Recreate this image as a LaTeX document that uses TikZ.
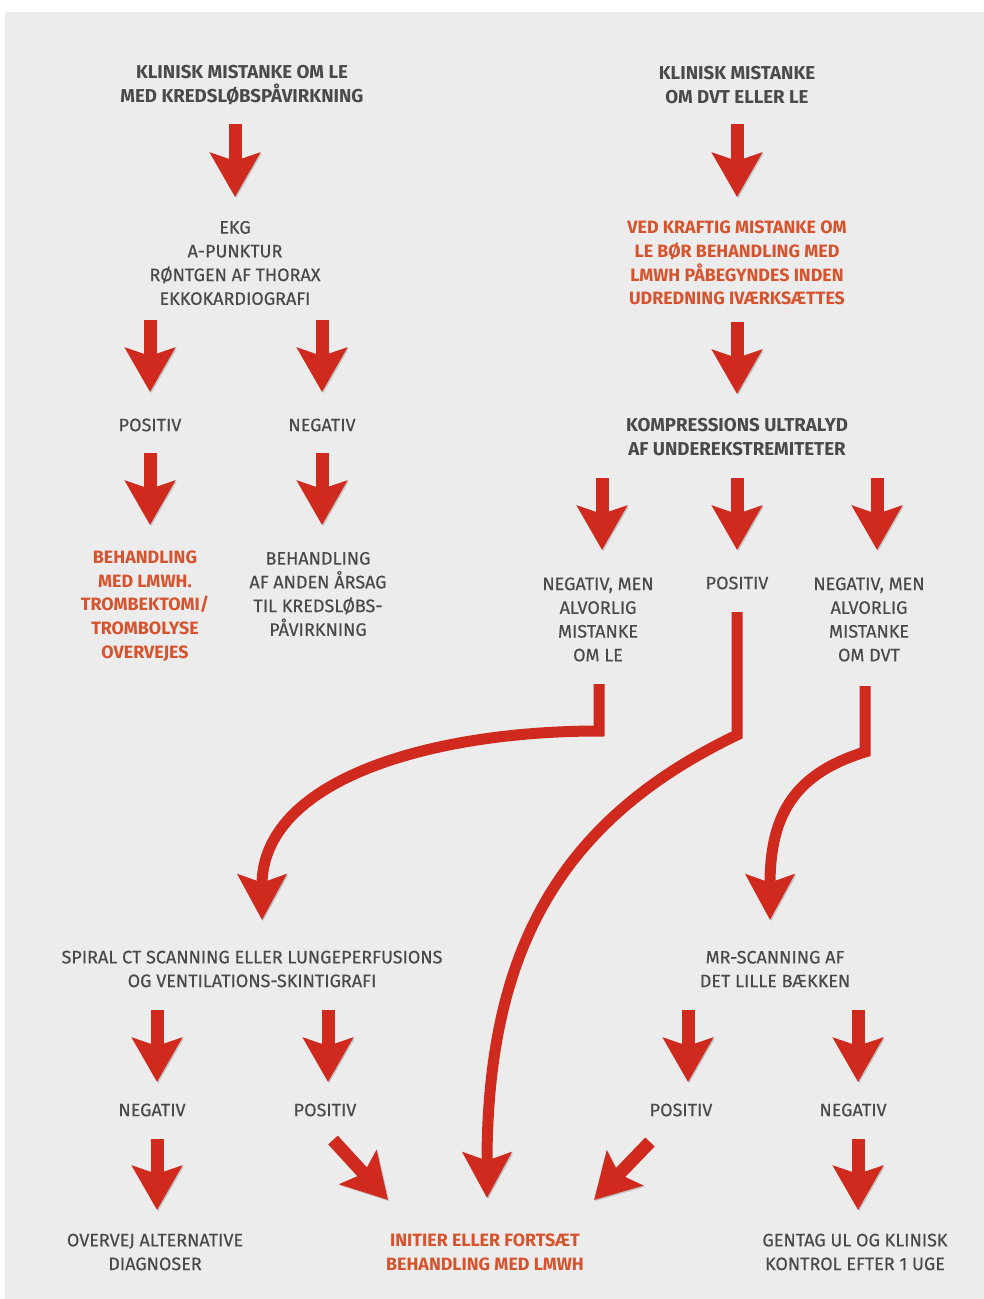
\documentclass[tikz,border=0pt]{standalone}
\usepackage{fontspec}
\setmainfont{Fira Sans}
\newfontfamily\regf{Fira Sans}[FakeBold=0.35]
\usetikzlibrary{arrows.meta}
\definecolor{bgc}{HTML}{ECECEC}
\definecolor{txtc}{HTML}{4A4A4A}
\definecolor{hlc}{HTML}{D6532E}
\definecolor{arrc}{HTML}{D02A1E}
\tikzset{
  lbl/.style={align=center, text=txtc, inner sep=0pt, font=\regf\fontsize{13.5}{17.8}\selectfont},
  hd/.style={lbl, font=\bfseries\fontsize{14}{17.8}\selectfont},
  hlt/.style={lbl, text=hlc, font=\bfseries\fontsize{13.4}{17.8}\selectfont},
  shd/.style={preaction={draw=black, opacity=0.18, transform canvas={shift={(0.9pt,-0.9pt)}}}},
  sa/.style={shd, draw=arrc, line width=9.75pt, -{Stealth[length=33pt,width=37pt,inset=6pt]}},
  ca/.style={shd, draw=arrc, line width=8.25pt, line join=miter, -{Stealth[length=34pt,width=36pt,inset=6pt]}},
}
\begin{document}
\begin{tikzpicture}[x=0.75pt,y=-0.75pt]
\fill[white] (0,0) rectangle (984,1299);
\fill[bgc] (5,12) rectangle (984,1299);
\useasboundingbox (0,0) rectangle (984,1299);

% ---------- left column ----------
\node[hd] (t1) at (242,85) {KLINISK MISTANKE OM LE\\MED KREDSLØBSPÅVIRKNING};
\coordinate (a1s) at (235,124); \coordinate (a1e) at (235,197);
\draw[sa] (a1s) -- (a1e);
\node[lbl] (ekg) at (235,263) {EKG\\A-PUNKTUR\\RØNTGEN AF THORAX\\EKKOKARDIOGRAFI};
\coordinate (a2s) at (150,320); \coordinate (a2e) at (150,392);
\coordinate (a3s) at (322,320); \coordinate (a3e) at (322,392);
\draw[sa] (a2s) -- (a2e);
\draw[sa] (a3s) -- (a3e);
\node[lbl] (pos1) at (150,425) {POSITIV};
\node[lbl] (neg1) at (322,425) {NEGATIV};
\coordinate (a4s) at (150,453); \coordinate (a4e) at (150,525);
\coordinate (a5s) at (322,453); \coordinate (a5e) at (322,525);
\draw[sa] (a4s) -- (a4e);
\draw[sa] (a5s) -- (a5e);
\node[hlt] (beh1) at (145,606) {BEHANDLING\\MED LMWH.\\TROMBEKTOMI/\\TROMBOLYSE\\OVERVEJES};
\node[lbl] (beh2) at (318,594) {BEHANDLING\\AF ANDEN ÅRSAG\\TIL KREDSLØBS-\\PÅVIRKNING};

% ---------- right column ----------
\node[hd] (t2) at (737,85) {KLINISK MISTANKE\\OM DVT ELLER LE};
\coordinate (b1s) at (737,124); \coordinate (b1e) at (737,197);
\draw[sa] (b1s) -- (b1e);
\node[hlt] (ved) at (737,263) {VED KRAFTIG MISTANKE OM\\LE BØR BEHANDLING MED\\LMWH PÅBEGYNDES INDEN\\UDREDNING IVÆRKSÆTTES};
\coordinate (b2s) at (737,322); \coordinate (b2e) at (737,394);
\draw[sa] (b2s) -- (b2e);
\node[hd] (kus) at (737,437) {KOMPRESSIONS ULTRALYD\\AF UNDEREKSTREMITETER};
\coordinate (b3s) at (602,478); \coordinate (b3e) at (602,550);
\coordinate (b4s) at (737,478); \coordinate (b4e) at (737,550);
\coordinate (b5s) at (877,478); \coordinate (b5e) at (877,550);
\draw[sa] (b3s) -- (b3e);
\draw[sa] (b4s) -- (b4e);
\draw[sa] (b5s) -- (b5e);
\node[lbl] (negle) at (598,619.5) {NEGATIV, MEN\\ALVORLIG\\MISTANKE\\OM LE};
\node[lbl] (pos2) at (737,583) {POSITIV};
\node[lbl] (negdvt) at (869,619.5) {NEGATIV, MEN\\ALVORLIG\\MISTANKE\\OM DVT};

% ---------- curved connectors ----------
\coordinate (c1s) at (599,684); \coordinate (c1k) at (599,731); \coordinate (c1e) at (262,920);
\draw[ca] (c1s) -- (c1k) .. controls (430,731) and (262,780) .. (c1e);
\coordinate (c2s) at (737,612); \coordinate (c2k) at (737,735); \coordinate (c2e) at (487,1198);
\draw[ca] (c2s) -- (c2k) .. controls (560,820) and (487,950) .. (c2e);
\coordinate (c3s) at (865,686); \coordinate (c3k) at (865,752); \coordinate (c3e) at (770,920);
\draw[ca] (c3s) -- (c3k) .. controls (790,775) and (770,820) .. (c3e);

% ---------- bottom left ----------
\node[lbl] (spiral) at (252,969) {SPIRAL CT SCANNING ELLER LUNGEPERFUSIONS\\OG VENTILATIONS-SKINTIGRAFI};
\coordinate (d1s) at (157,1010); \coordinate (d1e) at (157,1082);
\coordinate (d2s) at (328,1010); \coordinate (d2e) at (328,1082);
\draw[sa] (d1s) -- (d1e);
\draw[sa] (d2s) -- (d2e);
\node[lbl] (neg3) at (152,1110) {NEGATIV};
\node[lbl] (pos3) at (325,1110) {POSITIV};
\coordinate (d3s) at (157,1139); \coordinate (d3e) at (157,1210);
\draw[sa] (d3s) -- (d3e);
\coordinate (d4s) at (333,1140); \coordinate (d4e) at (388,1200);
\draw[sa] (d4s) -- (d4e);
\node[lbl] (overvej) at (155,1252) {OVERVEJ ALTERNATIVE\\DIAGNOSER};
\node[hlt] (init) at (485,1252) {INITIER ELLER FORTSÆT\\BEHANDLING MED LMWH};

% ---------- bottom right ----------
\node[lbl] (mr) at (775,969) {MR-SCANNING AF\\DET LILLE BÆKKEN};
\coordinate (e1s) at (688,1010); \coordinate (e1e) at (688,1082);
\coordinate (e2s) at (858,1010); \coordinate (e2e) at (858,1082);
\draw[sa] (e1s) -- (e1e);
\draw[sa] (e2s) -- (e2e);
\node[lbl] (pos4) at (681,1110) {POSITIV};
\node[lbl] (neg4) at (853,1110) {NEGATIV};
\coordinate (e3s) at (650,1142); \coordinate (e3e) at (594,1200);
\draw[sa] (e3s) -- (e3e);
\coordinate (e4s) at (858,1139); \coordinate (e4e) at (858,1210);
\draw[sa] (e4s) -- (e4e);
\node[lbl] (gentag) at (855,1252) {GENTAG UL OG KLINISK\\KONTROL EFTER 1 UGE};
\end{tikzpicture}
\end{document}
